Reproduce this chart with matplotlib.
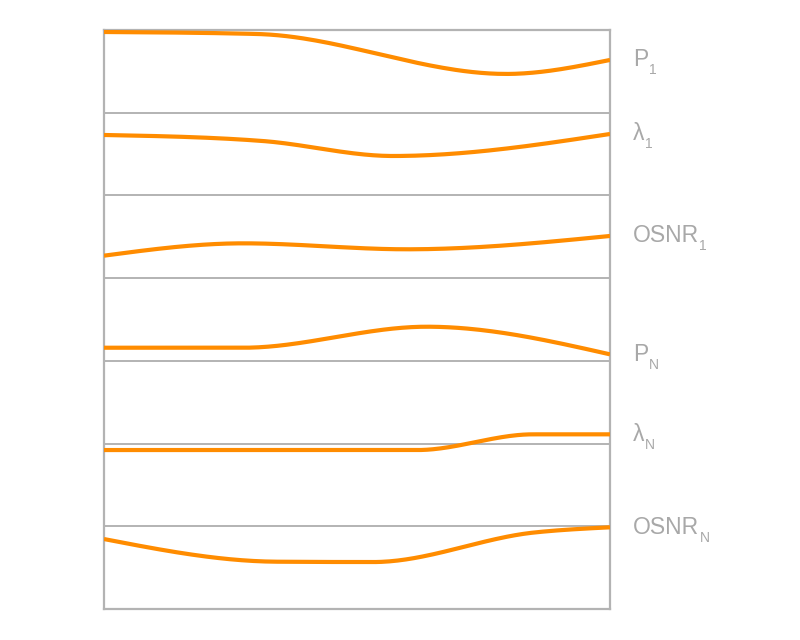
import numpy as np
import matplotlib.pyplot as plt

# time axis 0..100, level axis 0..7 (one band per unit)
p1_x = [0, 30.2, 79.5, 100]
p1_y = [6.976, 6.952, 6.469, 6.638]
l1_x = [0, 31.4, 57.1, 100]
l1_y = [5.731, 5.658, 5.477, 5.743]
o1_x = [0, 27.5, 59.9, 100]
o1_y = [4.272, 4.421, 4.349, 4.510]
pn_x = [0, 27.5, 63.8, 100]
pn_y = [3.159, 3.159, 3.413, 3.079]
ln_x = [0, 61.9, 84.8, 100]
ln_y = [1.922, 1.922, 2.112, 2.112]
on_x = [0, 34.2, 53.2, 85.0, 100]
on_y = [0.846, 0.572, 0.568, 0.925, 0.988]

labels = ["P", "λ", "OSNR", "P", "λ", "OSNR"]
subs = ["1", "1", "1", "N", "N", "N"]

orange = "#ff8c00"
gray = "#b3b3b3"
textgray = "#a8a8a8"


def monotone(xs, ys, n=60):
    # monotone cubic (like d3.curveMonotoneX)
    x = np.asarray(xs, float)
    y = np.asarray(ys, float)
    h = np.diff(x)
    s = np.diff(y) / h
    t = np.zeros(len(x))
    for i in range(1, len(x) - 1):
        p = (s[i - 1] * h[i] + s[i] * h[i - 1]) / (h[i - 1] + h[i])
        t[i] = (np.sign(s[i - 1]) + np.sign(s[i])) * min(abs(s[i - 1]), abs(s[i]), 0.5 * abs(p))
    t[0] = (3 * s[0] - t[1]) / 2
    t[-1] = (3 * s[-1] - t[-2]) / 2
    outx, outy = [], []
    for i in range(len(x) - 1):
        u = np.linspace(0, 1, n)
        h00 = 2 * u**3 - 3 * u**2 + 1
        h10 = u**3 - 2 * u**2 + u
        h01 = -2 * u**3 + 3 * u**2
        h11 = u**3 - u**2
        outx.extend(x[i] + u * h[i])
        outy.extend(h00 * y[i] + h10 * h[i] * t[i] + h01 * y[i + 1] + h11 * h[i] * t[i + 1])
    return np.array(outx), np.array(outy)


fig = plt.figure(figsize=(8, 6.4), dpi=100)
ax = fig.add_axes([0.13, 0.0484, 0.6325, 0.9047])
ax.set_xlim(0, 100)
ax.set_ylim(0, 7)
ax.set_xticks([])
ax.set_yticks([])
for sp in ax.spines.values():
    sp.set_color(gray)
    sp.set_linewidth(1.6)

for k in range(1, 7):
    ax.axhline(k, color=gray, lw=1.4, zorder=1)

series = [(p1_x, p1_y), (l1_x, l1_y), (o1_x, o1_y), (pn_x, pn_y), (ln_x, ln_y), (on_x, on_y)]
for (xs, ys), lab, sub in zip(series, labels, subs):
    cx, cy = monotone(xs, ys)
    ax.plot(cx, cy, color=orange, lw=3.0, zorder=3, solid_capstyle="butt")
    t = ax.text(104.6, ys[-1], lab, fontsize=16.5, color=textgray, family="Liberation Sans",
                va="center", ha="left", clip_on=False)
    ax.annotate(sub, xy=(1, 0), xycoords=t, xytext=(0, -3), textcoords="offset pixels",
                fontsize=10, color=textgray, family="Liberation Sans", va="baseline", ha="left")

fig.savefig("out.png", dpi=100)
